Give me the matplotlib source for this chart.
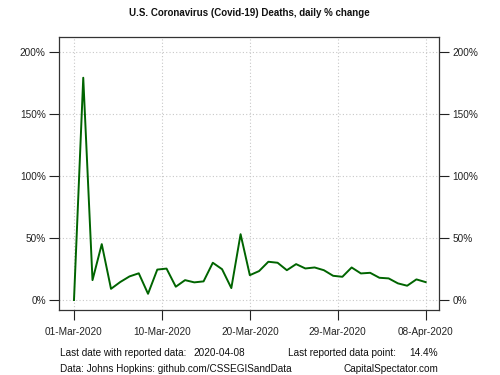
import matplotlib
matplotlib.use("Agg")
import matplotlib.pyplot as plt
import pandas as pd

plt.rcParams['font.family'] = ['Liberation Sans', 'DejaVu Sans']

dates = pd.date_range("2020-03-01", "2020-04-08", freq="D")
pct_change = [0, 179, 16, 45, 9, 14.5, 19, 21.5, 5, 24.5,
              25.3, 10.7, 16, 14.2, 15, 30, 24.8, 9.6, 53, 20,
              23.3, 30.8, 30, 24, 28.9, 25.4, 26.2, 24, 19.5, 18.7,
              26.2, 21.4, 21.9, 17.9, 17.4, 13.4, 11.5, 16.6, 14.4]
yticks = [0, 50, 100, 150, 200]
ytick_labels = ["0%", "50%", "100%", "150%", "200%"]
xtick_dates = pd.to_datetime(["2020-03-01 00:00", "2020-03-10 12:00", "2020-03-20 00:00",
                              "2020-03-29 12:00", "2020-04-08 00:00"], format="%Y-%m-%d %H:%M")
xtick_labels = ["01-Mar-2020", "10-Mar-2020", "20-Mar-2020", "29-Mar-2020", "08-Apr-2020"]

W, H = 500, 375
fig = plt.figure(figsize=(5, 3.75), dpi=100)
L, R, T, B = 59, 439, 37, 310
ax = fig.add_axes([L / W, 1 - B / H, (R - L) / W, (B - T) / H])

ax.plot(dates, pct_change, color="#006400", linewidth=1.4, zorder=3)

ax.set_ylim(-8.05, 211.8)
ax.set_xlim(dates[0] - pd.Timedelta(hours=1.62 * 24), dates[-1] + pd.Timedelta(hours=1.44 * 24))

fs = 7.2
ax.set_yticks(yticks)
ax.set_yticklabels(ytick_labels)
ax.set_xticks(xtick_dates)
ax.set_xticklabels(xtick_labels)
ax.tick_params(axis="y", which="both", left=True, right=True, labelleft=True, labelright=True,
               length=7, width=0.8, pad=2.5, labelsize=fs, colors="#222222")
ax.tick_params(axis="x", length=7, width=0.8, pad=5.5, labelsize=fs, colors="#222222")

ax.grid(True, color="#c8c8c8", linestyle=(0, (1, 2)), linewidth=0.8)
for s in ax.spines.values():
    s.set_color("#333333")
    s.set_linewidth(0.9)

fig.text(249 / W, 1 - 13.5 / H, "U.S. Coronavirus (Covid-19) Deaths, daily % change",
         ha="center", va="center", fontsize=7.0, fontweight="bold", color="#111111")

ty1 = 1 - 352.7 / H
ty2 = 1 - 369.3 / H
fig.text(60 / W, ty1, "Last date with reported data:", ha="left", va="center", fontsize=fs, color="#111111")
fig.text(193.3 / W, ty1, "2020-04-08", ha="left", va="center", fontsize=fs, color="#111111")
fig.text(288.3 / W, ty1, "Last reported data point:", ha="left", va="center", fontsize=fs, color="#111111")
fig.text(438.3 / W, ty1, "14.4%", ha="right", va="center", fontsize=fs, color="#111111")
fig.text(60 / W, ty2, "Data: Johns Hopkins: github.com/CSSEGISandData", ha="left", va="center", fontsize=fs, color="#111111")
fig.text(438.3 / W, ty2, "CapitalSpectator.com", ha="right", va="center", fontsize=fs, color="#111111")

fig.savefig("out.png", dpi=100)
